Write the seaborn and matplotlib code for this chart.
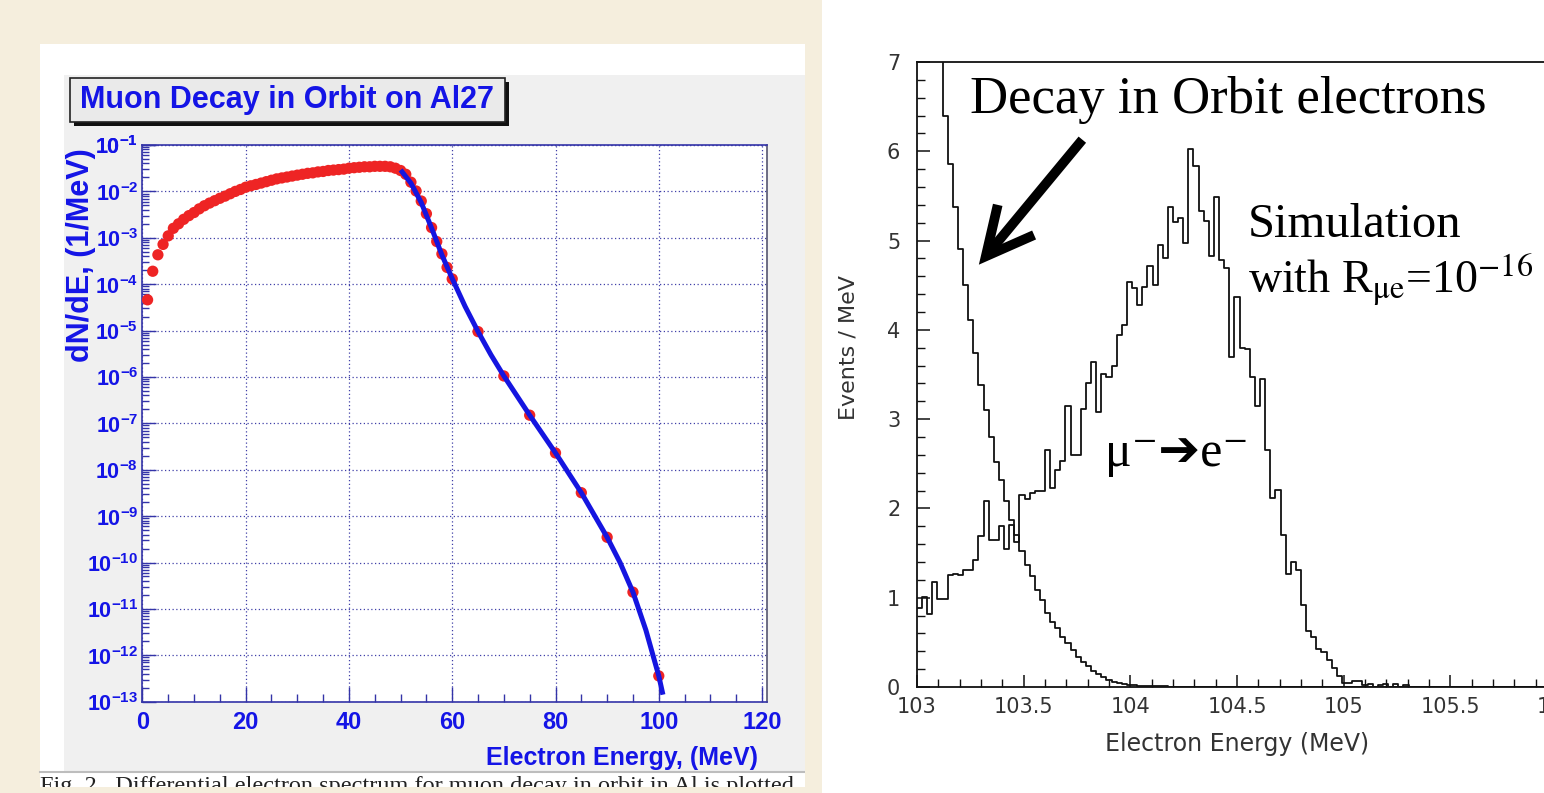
import numpy as np
import pandas as pd
import matplotlib
matplotlib.use("Agg")
import matplotlib.pyplot as plt
import seaborn as sns
from matplotlib.patches import Rectangle
from matplotlib.lines import Line2D
from matplotlib.ticker import FixedLocator, LogLocator, FuncFormatter, NullFormatter, MultipleLocator
from matplotlib.font_manager import FontProperties

plt.rcParams["mathtext.fontset"] = "custom"
plt.rcParams["mathtext.bf"] = "Liberation Sans:bold"
plt.rcParams["mathtext.rm"] = "Liberation Sans"
plt.rcParams["mathtext.it"] = "Liberation Sans:italic"

W, H = 1544, 793

# ---------------- left panel data (Muon decay in orbit on Al27) ----------------
dio_energy = list(range(1, 61)) + [65, 70, 75, 80, 85, 90, 95, 100]
dio_rate = [4.6e-5, 1.9e-4, 4.3e-4, 7.2e-4, 1.1e-3, 1.6e-3, 2.0e-3, 2.5e-3, 3.0e-3, 3.5e-3,
            4.2e-3, 4.9e-3, 5.6e-3, 6.3e-3, 7.1e-3, 7.9e-3, 8.9e-3, 1.0e-2, 1.1e-2, 1.23e-2,
            1.32e-2, 1.41e-2, 1.51e-2, 1.62e-2, 1.74e-2, 1.86e-2, 1.95e-2, 2.04e-2, 2.14e-2, 2.24e-2,
            2.34e-2, 2.45e-2, 2.51e-2, 2.63e-2, 2.69e-2, 2.82e-2, 2.88e-2, 2.95e-2, 3.02e-2, 3.16e-2,
            3.24e-2, 3.31e-2, 3.39e-2, 3.39e-2, 3.47e-2, 3.47e-2, 3.47e-2, 3.39e-2, 3.16e-2, 2.82e-2,
            2.34e-2, 1.58e-2, 1.02e-2, 6.2e-3, 3.3e-3, 1.66e-3, 8.3e-4, 4.5e-4, 2.3e-4, 1.3e-4,
            9.5e-6, 1.05e-6, 1.5e-7, 2.3e-8, 3.2e-9, 3.5e-10, 2.3e-11, 3.6e-13]
fit_energy = [50.3, 52, 54, 56, 58, 60, 62.5, 65, 67.5, 70, 75, 80, 85, 90, 92.5, 95, 97.5, 100, 100.7]
fit_rate = [2.63e-2, 1.51e-2, 5.75e-3, 1.62e-3, 4.27e-4, 1.32e-4, 3.3e-5, 9.5e-6, 3.0e-6, 1.05e-6,
            1.5e-7, 2.3e-8, 3.2e-9, 3.5e-10, 1.0e-10, 2.3e-11, 3.5e-12, 3.6e-13, 1.6e-13]
left_xticks = [0, 20, 40, 60, 80, 100, 120]
left_yexponents = list(range(-13, 0))

# ---------------- right panel data (histograms, 0.024 MeV bins) ----------------
hist_lo, hist_hi, n_bins = 103.0, 106.0, 125
dio_counts = [9.6, 8.9, 8.2, 7.6, 7.05, 6.39, 5.86, 5.38, 4.91, 4.50,
              4.11, 3.74, 3.38, 3.10, 2.80, 2.52, 2.32, 2.08, 1.87, 1.70,
              1.52, 1.37, 1.24, 1.09, 0.97, 0.83, 0.73, 0.66, 0.56, 0.49,
              0.41, 0.34, 0.28, 0.23, 0.18, 0.15, 0.11, 0.08, 0.06, 0.045,
              0.035, 0.025, 0.02, 0.015, 0.012, 0.01, 0.008, 0.007, 0.006, 0.005,
              0.004, 0.004, 0.003, 0.003, 0.003, 0.002, 0.002, 0.002, 0.002, 0.001, 0.001]
dio_counts = dio_counts + [0.0] * (n_bins - len(dio_counts))
signal_counts = [0.88, 1.01, 0.82, 1.18, 0.99, 0.99, 1.25, 1.27, 1.25, 1.31,
                 1.31, 1.42, 1.69, 2.08, 1.65, 1.65, 1.80, 1.55, 1.82, 1.62,
                 2.15, 2.10, 2.17, 2.19, 2.19, 2.65, 2.23, 2.43, 2.53, 3.15,
                 2.60, 2.60, 3.11, 3.40, 3.64, 3.08, 3.51, 3.47, 3.59, 3.94,
                 4.05, 4.54, 4.47, 4.28, 4.48, 4.71, 4.50, 4.95, 4.80, 5.38,
                 5.21, 5.25, 4.97, 6.03, 5.84, 5.33, 5.22, 4.83, 5.49, 4.78,
                 4.69, 3.70, 4.37, 3.80, 3.78, 3.47, 3.15, 3.45, 2.66, 2.12,
                 2.21, 1.70, 1.27, 1.40, 1.31, 0.92, 0.63, 0.56, 0.43, 0.39,
                 0.30, 0.21, 0.12, 0.04, 0.04, 0.07, 0.07, 0.02, 0.03, 0.00,
                 0.02, 0.03, 0.00, 0.03, 0.00, 0.02]
signal_counts = signal_counts + [0.0] * (n_bins - len(signal_counts))
right_xticks = [103, 103.5, 104, 104.5, 105, 105.5, 106]
right_xlabels = ["103", "103.5", "104", "104.5", "105", "105.5", "106"]
right_yticks = [0, 1, 2, 3, 4, 5, 6, 7]

# ---------------- helpers ----------------
def frac_rect(x0, y0, x1, y1):
    return [x0 / W, 1 - y1 / H, (x1 - x0) / W, (y1 - y0) / H]

def add_box(x0, y0, x1, y1, z, **kw):
    r = Rectangle((x0 / W, 1 - y1 / H), (x1 - x0) / W, (y1 - y0) / H,
                  transform=fig.transFigure, zorder=z, **kw)
    fig.add_artist(r)
    return r

BEIGE = "#F5EEDD"
BLUE_TXT = "#1414E6"
BLUE_AX = "#3434A8"

fig = plt.figure(figsize=(W / 100, H / 100), dpi=100, facecolor=BEIGE)

# backgrounds
add_box(40, 44, 805, 787, -10, facecolor="white", edgecolor="none")
add_box(64, 75, 805, 772, -9, facecolor="#F0F0F0", edgecolor="none")
fig.add_artist(Line2D([40 / W, 805 / W], [1 - 772 / H, 1 - 772 / H], transform=fig.transFigure,
                      color="#BDBDBD", lw=1.5, zorder=-8))
add_box(822, 0, W, H, -10, facecolor="white", edgecolor="none")

# caption (cut at the bottom like the screenshot)
fig.text(40 / W, 1 - 776 / H,
         "Fig. 2.  Differential electron spectrum for muon decay in orbit in Al is plotted",
         family="Liberation Serif", fontsize=17.5, color="#222222", va="top", ha="left", zorder=-7)
add_box(0, 787, 822, H, -6, facecolor=BEIGE, edgecolor="none")
add_box(805, 0, 822, H, -6, facecolor=BEIGE, edgecolor="none")

# ---------------- left axes ----------------
ax1 = fig.add_axes(frac_rect(142.4, 145, 766.7, 701.7))
ax1.set_facecolor("white")
sns.scatterplot(x=dio_energy, y=dio_rate, ax=ax1, color="#EE2424", s=66,
                edgecolor="none", linewidth=0, zorder=3)
sns.lineplot(x=fit_energy, y=fit_rate, ax=ax1, color="#1515E0", lw=3.6,
             sort=False, estimator=None, zorder=4)
ax1.set_yscale("log")
ax1.set_xlim(0, 120.9)
ax1.set_ylim(1e-13, 1e-1)
ax1.xaxis.set_major_locator(FixedLocator(left_xticks))
ax1.xaxis.set_minor_locator(MultipleLocator(5))
ax1.yaxis.set_major_locator(FixedLocator([10.0 ** e for e in left_yexponents] + [1e-1]))
ax1.yaxis.set_minor_locator(LogLocator(base=10, subs=np.arange(2, 10), numticks=30))
ax1.yaxis.set_major_formatter(FuncFormatter(lambda v, p: r"$\mathbf{10^{%d}}$" % round(np.log10(v))))
ax1.yaxis.set_minor_formatter(NullFormatter())
ax1.xaxis.set_major_formatter(FuncFormatter(lambda v, p: "%d" % v))
ax1.tick_params(which="both", direction="in", color=BLUE_AX, labelcolor=BLUE_TXT)
ax1.tick_params(axis="x", which="major", length=11, width=1.0, pad=7, labelsize=17)
ax1.tick_params(axis="x", which="minor", length=6, width=1.0)
ax1.tick_params(axis="y", which="major", length=10, width=1.0, pad=3, labelsize=15.5)
ax1.tick_params(axis="y", which="minor", length=5, width=1.0)
for lab in ax1.get_xticklabels():
    lab.set_fontfamily("Liberation Sans")
    lab.set_fontweight("bold")
ax1.grid(True, which="major", color="#4040A8", linestyle=(0, (1, 2)), linewidth=0.9)
for side in ["left", "bottom", "top"]:
    ax1.spines[side].set_color(BLUE_AX)
ax1.spines["right"].set_color("#555570")
for sp in ax1.spines.values():
    sp.set_linewidth(1.2)
ax1.set_xlabel("")
ax1.set_ylabel("")
if ax1.get_legend():
    ax1.get_legend().remove()

fig.text(81 / W, 1 - 255 / H, "dN/dE, (1/MeV)", rotation=90, ha="center", va="center",
         fontsize=22, fontweight="bold", color=BLUE_TXT, family="Liberation Sans")
fig.text(622 / W, 1 - 758 / H, "Electron Energy, (MeV)", ha="center", va="center",
         fontsize=18, fontweight="bold", color=BLUE_TXT, family="Liberation Sans")

# title box with shadow
add_box(74, 82, 509, 126, 2, facecolor="#111111", edgecolor="none")
add_box(70, 78, 505, 122, 2.1, facecolor="#EAEAEA", edgecolor="#222222", linewidth=1.2)
fig.text(287.5 / W, 1 - 100 / H, "Muon Decay in Orbit on Al27", ha="center", va="center",
         fontsize=22, fontweight="bold", color=BLUE_TXT, family="Liberation Sans", zorder=3)

# ---------------- right axes ----------------
edges = np.linspace(hist_lo, hist_hi, n_bins + 1)
centers = 0.5 * (edges[:-1] + edges[1:])
hist_df = pd.DataFrame({"energy": centers, "dio": dio_counts, "signal": signal_counts})
ax2 = fig.add_axes(frac_rect(917, 62, 1557, 687))
ax2.set_facecolor("white")
for col in ["dio", "signal"]:
    sns.histplot(data=hist_df, x="energy", weights=col, bins=list(edges), element="step",
                 fill=False, color="#111111", linewidth=1.3, ax=ax2)
ax2.set_xlim(hist_lo, hist_hi)
ax2.set_ylim(0, 7)
ax2.xaxis.set_major_locator(FixedLocator(right_xticks))
ax2.set_xticklabels(right_xlabels)
ax2.xaxis.set_minor_locator(MultipleLocator(0.1))
ax2.yaxis.set_major_locator(FixedLocator(right_yticks))
ax2.yaxis.set_minor_locator(MultipleLocator(0.2))
ax2.tick_params(which="both", direction="in", color="#111111", labelcolor="#333333")
ax2.tick_params(which="major", length=9, width=1.1, labelsize=15)
ax2.tick_params(axis="x", which="major", pad=7)
ax2.tick_params(axis="y", which="major", pad=12)
ax2.tick_params(which="minor", length=6, width=1.0)
for sp in ax2.spines.values():
    sp.set_linewidth(1.3)
    sp.set_color("#111111")
ax2.set_xlabel("Electron Energy (MeV)", fontsize=17, color="#333333")
ax2.set_ylabel("Events / MeV", fontsize=16, color="#333333")
ax2.xaxis.set_label_coords(0.5, -0.072)
ax2.yaxis.set_label_coords(-0.092, 0.544)

serif = ["Liberation Serif", "DejaVu Serif", "DejaVu Sans"]
ax2.text(103.248, 6.43, "Decay in Orbit electrons", family=serif, fontsize=38,
         color="black", ha="left", va="baseline")
ax2.annotate("", xy=(103.29, 4.73), xytext=(103.775, 6.13),
             arrowprops=dict(arrowstyle="->,head_length=1.7,head_width=0.85",
                             lw=7, color="black", mutation_scale=20, shrinkA=0, shrinkB=0,
                             joinstyle="miter", capstyle="butt"))
ax2.text(104.552, 5.04, "Simulation", family=serif, fontsize=35, color="black",
         ha="left", va="baseline")
fp = FontProperties(family="Liberation Serif", size=33, math_fontfamily="stix")
ax2.text(104.552, 4.41, r"with R$_{\mathrm{\mu e}}$=10$^{\mathrm{-16}}$",
         fontproperties=fp, color="black", ha="left", va="baseline")
ax2.text(103.881, 2.47, "\u03bc\u207b\u2794e\u207b", family=["Liberation Serif", "DejaVu Sans"],
         fontsize=36, color="black", ha="left", va="baseline")

fig.savefig("out.png", dpi=100, facecolor=BEIGE)
